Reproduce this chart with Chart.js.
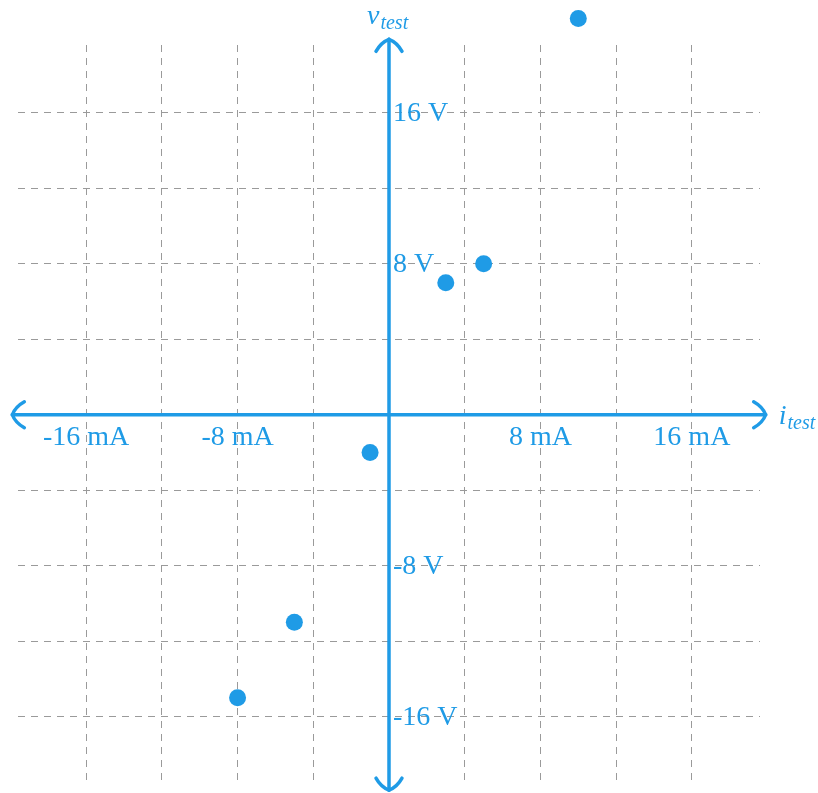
<!DOCTYPE html>
<html>
<head>
<meta charset="utf-8">
<title>v-i test characteristic</title>
<script src="https://cdn.jsdelivr.net/npm/chart.js@4/dist/chart.umd.min.js"></script>
<style>
  html, body { margin: 0; padding: 0; background: #ffffff; }
  canvas { display: block; }
</style>
</head>
<body>
<canvas id="chart" width="818" height="793"></canvas>
<script>
// Measured test points: current in mA, voltage in V
const currentMA = [10, 5, 3, -1, -5, -8];
const voltageV  = [21, 8, 7, -2, -11, -15];

// Grid positions and labelled ticks
const gridValues   = [-16, -12, -8, -4, 0, 4, 8, 12, 16];
const xTickLabels  = [-16, -8, 8, 16];
const yTickLabels  = [16, 8, -8, -16];

const BLUE = '#1f9be6';
const AXIS_LIMIT = 19.6;
const ARROW_TIP = 19.9;

const axesPlugin = {
  id: 'centerAxes',
  beforeDatasetsDraw(chart) {
    const { ctx, scales: { x, y } } = chart;
    const ox = x.getPixelForValue(0);
    const oy = y.getPixelForValue(0);
    const left = x.getPixelForValue(-ARROW_TIP);
    const right = x.getPixelForValue(ARROW_TIP);
    const top = y.getPixelForValue(ARROW_TIP);
    const bottom = y.getPixelForValue(-ARROW_TIP);
    ctx.save();
    ctx.strokeStyle = BLUE;
    ctx.lineWidth = 3.5;
    ctx.lineCap = 'round';
    ctx.lineJoin = 'round';
    // axis lines
    ctx.beginPath();
    ctx.moveTo(left, oy); ctx.lineTo(right, oy);
    ctx.moveTo(ox, bottom); ctx.lineTo(ox, top);
    ctx.stroke();
    // curved arrow heads: (tipX, tipY, dirX, dirY)
    const head = (tx, ty, dx, dy) => {
      const px = -dy, py = dx; // perpendicular
      const back = 12, side = 13;
      ctx.beginPath();
      for (const s of [1, -1]) {
        ctx.moveTo(tx, ty);
        ctx.quadraticCurveTo(
          tx - dx * 3 + px * s * 8, ty - dy * 3 + py * s * 8,
          tx - dx * back + px * s * side, ty - dy * back + py * s * side
        );
      }
      ctx.stroke();
    };
    head(right, oy, 1, 0);
    head(left, oy, -1, 0);
    head(ox, top, 0, -1);
    head(ox, bottom, 0, 1);
    ctx.restore();

    // the top point sits above the gridded region; let points draw up to the canvas edge
    chart.$gridArea = chart.chartArea;
    chart.chartArea = Object.assign({}, chart.chartArea, { top: 0, height: chart.chartArea.bottom });
  },
  afterDatasetsDraw(chart) {
    if (chart.$gridArea) {
      chart.chartArea = chart.$gridArea;
      delete chart.$gridArea;
    }
  },
  afterDraw(chart) {
    const { ctx, scales: { x, y } } = chart;
    const ox = x.getPixelForValue(0);
    const oy = y.getPixelForValue(0);
    ctx.save();
    ctx.fillStyle = BLUE;
    ctx.font = '28px "Liberation Serif", serif';
    // current tick labels under the horizontal axis
    ctx.textAlign = 'center';
    ctx.textBaseline = 'alphabetic';
    for (const v of xTickLabels) {
      ctx.fillText(v + ' mA', x.getPixelForValue(v), oy + 30);
    }
    // voltage tick labels right of the vertical axis
    ctx.textAlign = 'left';
    ctx.textBaseline = 'middle';
    for (const v of yTickLabels) {
      ctx.fillText(v + ' V', ox + 4, y.getPixelForValue(v) + 1);
    }
    // axis names with subscripts
    ctx.textBaseline = 'alphabetic';
    const top = y.getPixelForValue(ARROW_TIP);
    const right = x.getPixelForValue(ARROW_TIP);
    ctx.font = 'italic 28px "Liberation Serif", serif';
    ctx.fillText('v', ox - 22, top - 15);
    const vw = ctx.measureText('v').width;
    ctx.fillText('i', right + 13, oy + 9);
    const iw = ctx.measureText('i').width;
    ctx.font = 'italic 20px "Liberation Serif", serif';
    ctx.fillText('test', ox - 21 + vw, top - 10);
    ctx.fillText('test', right + 14 + iw, oy + 14);
    ctx.restore();
  }
};

const gridScale = () => ({
  type: 'linear',
  min: -AXIS_LIMIT,
  max: AXIS_LIMIT,
  afterBuildTicks: (scale) => { scale.ticks = gridValues.map(v => ({ value: v })); },
  ticks: { display: false },
  grid: { color: '#9a9a9a', lineWidth: 1, drawTicks: false },
  border: { display: false, dash: [7, 6] }
});

new Chart(document.getElementById('chart'), {
  type: 'scatter',
  data: {
    datasets: [{
      data: currentMA.map((c, i) => ({ x: c, y: voltageV[i] })),
      backgroundColor: BLUE,
      borderWidth: 0,
      pointRadius: 8.5,
      pointHoverRadius: 8.5,
      clip: false
    }]
  },
  options: {
    responsive: false,
    animation: false,
    devicePixelRatio: 1,
    layout: { padding: { left: 18, right: 58, top: 45, bottom: 3 } },
    plugins: { legend: { display: false }, tooltip: { enabled: false } },
    scales: { x: gridScale(), y: gridScale() }
  },
  plugins: [axesPlugin]
});
</script>
</body>
</html>
